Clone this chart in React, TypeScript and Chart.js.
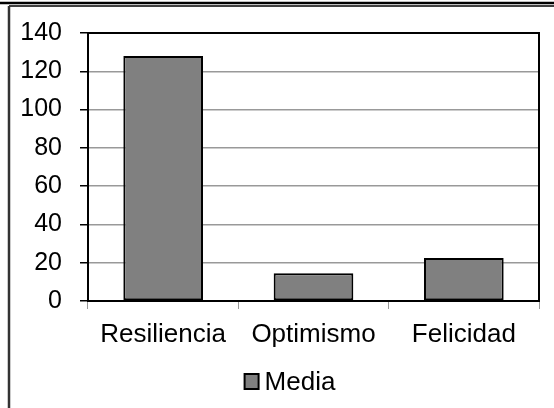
import React, { useEffect, useRef } from "react";
import { Chart, registerables } from "chart.js";

Chart.register(...registerables);

const categories = ["Resiliencia", "Optimismo", "Felicidad"];
const mediaValues = [128, 14.5, 22.5];
const seriesLabel = "Media";
const yTicks = [0, 20, 40, 60, 80, 100, 120, 140];

const FONT = "'Liberation Sans', Arial, sans-serif";
const FONT_SIZE = 25;
const X_FONT_SIZE = 26;

const framePlugin = {
  id: "framePlugin",
  afterDraw(chart: any) {
    const { ctx, chartArea, width, height } = chart;
    ctx.save();
    // outer frame
    ctx.strokeStyle = "#000";
    ctx.lineWidth = 2.5;
    ctx.beginPath();
    ctx.moveTo(0, 3);
    ctx.lineTo(width, 3);
    ctx.stroke();
    ctx.lineWidth = 1.5;
    ctx.beginPath();
    ctx.moveTo(9, 6);
    ctx.lineTo(width, 6);
    ctx.stroke();
    ctx.strokeStyle = "#333";
    ctx.lineWidth = 2.5;
    ctx.beginPath();
    ctx.moveTo(9, 6);
    ctx.lineTo(9, height);
    ctx.stroke();
    // plot area top and right border
    ctx.strokeStyle = "#000";
    ctx.lineWidth = 2;
    ctx.beginPath();
    ctx.moveTo(chartArea.left, chartArea.top);
    ctx.lineTo(chartArea.right, chartArea.top);
    ctx.lineTo(chartArea.right, chartArea.bottom);
    ctx.stroke();
    // legend
    const ds = chart.data.datasets[0];
    ctx.font = `${X_FONT_SIZE}px ${FONT}`;
    const text = ds.label as string;
    const tw = ctx.measureText(text).width;
    const boxW = 14;
    const gap = 6;
    const total = boxW + gap + tw;
    const cx = 290;
    const x0 = cx - total / 2;
    const baseline = 390;
    ctx.fillStyle = ds.backgroundColor;
    ctx.fillRect(x0, baseline - 16, boxW, 15);
    ctx.strokeStyle = "#000";
    ctx.lineWidth = 2;
    ctx.strokeRect(x0, baseline - 16, boxW, 15);
    ctx.fillStyle = "#000";
    ctx.textBaseline = "alphabetic";
    ctx.textAlign = "left";
    ctx.fillText(text, x0 + boxW + gap, baseline);
    ctx.restore();
  },
};

export default function App() {
  const ref = useRef<HTMLCanvasElement>(null);
  useEffect(() => {
    if (!ref.current) return;
    const chart = new Chart(ref.current, {
      type: "bar",
      data: {
        labels: categories,
        datasets: [
          {
            label: seriesLabel,
            data: mediaValues,
            backgroundColor: "#808080",
            borderColor: "#000",
            borderWidth: 2,
            borderSkipped: false,
            categoryPercentage: 1,
            barPercentage: 0.53,
          },
        ],
      },
      options: {
        responsive: false,
        animation: false,
        layout: { padding: { left: 0, top: 28, right: 15, bottom: 0 } },
        plugins: {
          legend: { display: false },
          tooltip: { enabled: false },
        },
        scales: {
          x: {
            afterFit: (scale: any) => {
              scale.height = 107;
            },
            grid: {
              offset: true,
              drawOnChartArea: false,
              color: "#999",
              tickLength: 8,
              lineWidth: 1,
            },
            border: { color: "#000", width: 2 },
            ticks: {
              color: "#000",
              padding: 10,
              font: { family: FONT, size: X_FONT_SIZE },
            },
          },
          y: {
            min: 0,
            max: 140,
            afterFit: (scale: any) => {
              scale.width = 88;
            },
            afterBuildTicks: (scale: any) => {
              scale.ticks = yTicks.map((v) => ({ value: v }));
            },
            grid: {
              color: "#999",
              tickColor: "#000",
              tickLength: 8,
              lineWidth: 1.5,
            },
            border: { color: "#000", width: 2 },
            ticks: {
              color: "#000",
              padding: 18,
              font: { family: FONT, size: FONT_SIZE },
            },
          },
        },
      },
      plugins: [framePlugin],
    });
    return () => chart.destroy();
  }, []);
  return (
    <div style={{ position: "fixed", left: 0, top: 0, width: 554, height: 408, background: "#fff" }}>
      <canvas ref={ref} width={554} height={408} style={{ display: "block" }} />
    </div>
  );
}
